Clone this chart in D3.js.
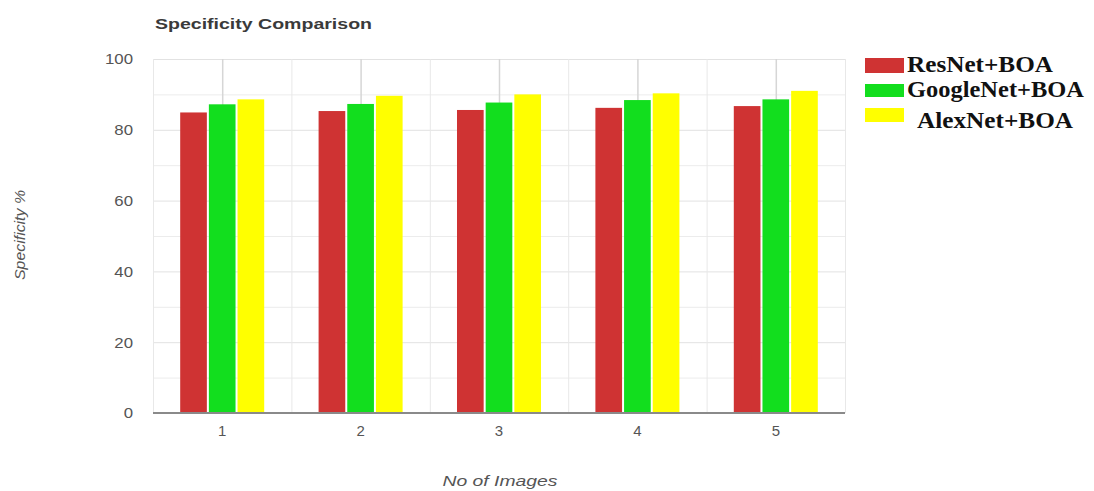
<!DOCTYPE html>
<html>
<head>
<meta charset="utf-8">
<script src="https://cdn.jsdelivr.net/npm/d3@7"></script>
<style>
  html, body { margin: 0; padding: 0; background: #fff; }
  svg { display: block; }
</style>
</head>
<body>
<svg id="chart" width="1094" height="491"></svg>
<script>
// Specificity per image count, three BOA-tuned networks
const categories = ["1", "2", "3", "4", "5"];
const seriesNames = ["ResNet+BOA", "GoogleNet+BOA", "AlexNet+BOA"];
const resnetValues = [84.9, 85.3, 85.6, 86.2, 86.7];
const googlenetValues = [87.2, 87.3, 87.7, 88.4, 88.6];
const alexnetValues = [88.6, 89.6, 90.0, 90.3, 91.0];
const yTicks = [0, 20, 40, 60, 80, 100];
const seriesColors = ["#cf3333", "#12de1e", "#ffff00"];

const seriesValues = [resnetValues, googlenetValues, alexnetValues];

const svg = d3.select("#chart");
const plot = { left: 153, right: 845, top: 59, bottom: 413 };
const sans = "Liberation Sans, Arial, sans-serif";

const x0 = d3.scaleBand().domain(categories).range([plot.left, plot.right]).padding(0);
const groupWidth = x0.bandwidth() * 0.607;
const x1 = d3.scaleBand().domain(seriesNames).range([0, groupWidth]).paddingInner(0.07);
const y = d3.scaleLinear().domain([0, 100]).range([plot.bottom, plot.top]);

// Horizontal grid (every 10)
const gridVals = d3.range(10, 101, 10);
svg.append("g").selectAll("line").data(gridVals).join("line")
  .attr("x1", plot.left).attr("x2", plot.right)
  .attr("y1", d => y(d) + 0.5).attr("y2", d => y(d) + 0.5)
  .attr("stroke", d => d % 20 === 0 ? "#e2e2e2" : "#ececec")
  .attr("stroke-width", 1);

// Vertical grid: band edges and band centers
const edges = categories.map(c => x0(c)).concat([plot.right]);
svg.append("g").selectAll("line").data(edges).join("line")
  .attr("x1", d => d + 0.5).attr("x2", d => d + 0.5)
  .attr("y1", plot.top).attr("y2", plot.bottom)
  .attr("stroke", "#e8e8e8").attr("stroke-width", 1);
svg.append("g").selectAll("line").data(categories).join("line")
  .attr("x1", d => x0(d) + x0.bandwidth() / 2 + 0.5)
  .attr("x2", d => x0(d) + x0.bandwidth() / 2 + 0.5)
  .attr("y1", plot.top).attr("y2", plot.bottom)
  .attr("stroke", "#d6d6d6").attr("stroke-width", 1.5);

// Bars
const groups = svg.append("g").selectAll("g").data(categories).join("g")
  .attr("transform", c => `translate(${x0(c) + (x0.bandwidth() - groupWidth) / 2},0)`);
groups.selectAll("rect")
  .data((c, i) => seriesNames.map((s, k) => ({ s, k, v: seriesValues[k][i] })))
  .join("rect")
  .attr("x", d => x1(d.s))
  .attr("width", x1.bandwidth())
  .attr("y", d => y(d.v))
  .attr("height", d => y(0) - y(d.v))
  .attr("fill", d => seriesColors[d.k]);

// Baseline
svg.append("line")
  .attr("x1", plot.left).attr("x2", plot.right)
  .attr("y1", plot.bottom).attr("y2", plot.bottom)
  .attr("stroke", "#8a8a8a").attr("stroke-width", 2);

// Y axis labels (slightly widened glyphs)
const yAxis = d3.axisLeft(y).tickValues(yTicks).tickSize(0).tickPadding(20);
const yG = svg.append("g").attr("transform", `translate(${plot.left},0)`).call(yAxis);
yG.select(".domain").remove();
yG.selectAll("text")
  .attr("font-family", sans)
  .attr("font-size", 15).attr("fill", "#555")
  .attr("transform", "scale(1.12,1)")
  .attr("x", -20 / 1.12);

// X axis labels
const xAxis = d3.axisBottom(x0).tickSize(0).tickPadding(12);
const xG = svg.append("g").attr("transform", `translate(0,${plot.bottom})`).call(xAxis);
xG.select(".domain").remove();
xG.selectAll("text")
  .attr("font-family", sans)
  .attr("font-size", 15).attr("fill", "#555");

// Title
svg.append("text")
  .attr("x", 155).attr("y", 29)
  .attr("font-family", sans)
  .attr("font-size", 15).attr("font-weight", "bold").attr("fill", "#3a3a3a")
  .attr("textLength", 217).attr("lengthAdjust", "spacingAndGlyphs")
  .text("Specificity Comparison");

// Axis titles
svg.append("text")
  .attr("transform", "translate(25,235) rotate(-90)")
  .attr("text-anchor", "middle")
  .attr("font-family", sans)
  .attr("font-size", 14).attr("font-style", "italic").attr("fill", "#555")
  .attr("textLength", 90).attr("lengthAdjust", "spacingAndGlyphs")
  .text("Specificity %");

svg.append("text")
  .attr("x", 500).attr("y", 486)
  .attr("text-anchor", "middle")
  .attr("font-family", sans)
  .attr("font-size", 15).attr("font-style", "italic").attr("fill", "#555")
  .attr("textLength", 115).attr("lengthAdjust", "spacingAndGlyphs")
  .text("No of Images");

// Legend
const legendRows = [
  { y: 58, h: 15, tx: 907, ty: 72, w: 146 },
  { y: 84, h: 13, tx: 907, ty: 97, w: 177 },
  { y: 108, h: 14, tx: 917, ty: 128, w: 156 }
];
const legend = svg.append("g");
seriesNames.forEach((name, i) => {
  const r = legendRows[i];
  legend.append("rect")
    .attr("x", 865).attr("y", r.y).attr("width", 39).attr("height", r.h)
    .attr("fill", seriesColors[i]);
  legend.append("text")
    .attr("x", r.tx).attr("y", r.ty)
    .attr("font-family", "Liberation Serif, Times New Roman, serif")
    .attr("font-size", 23).attr("font-weight", "bold").attr("fill", "#111")
    .attr("textLength", r.w).attr("lengthAdjust", "spacingAndGlyphs")
    .text(name);
});
</script>
</body>
</html>
